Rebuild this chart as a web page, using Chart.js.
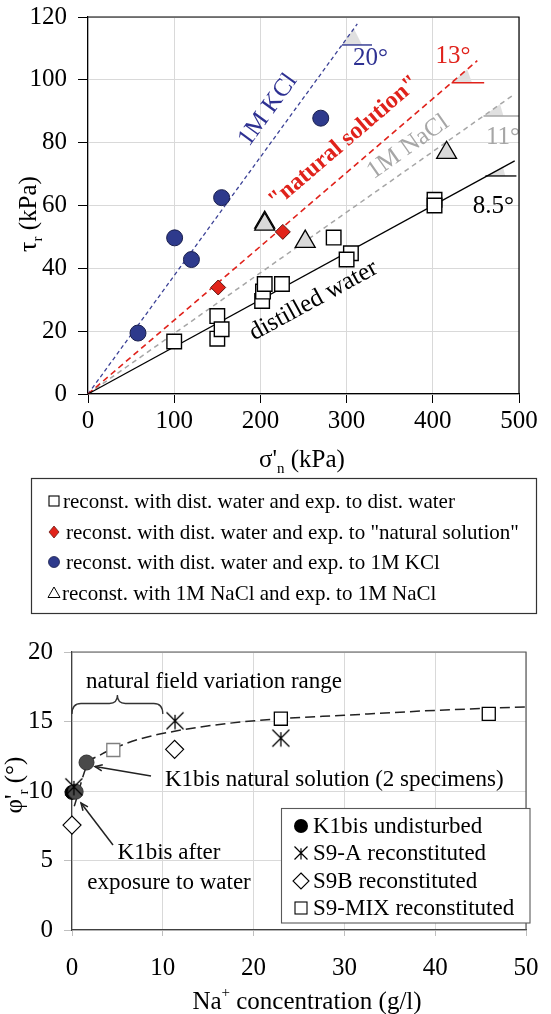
<!DOCTYPE html>
<html><head><meta charset="utf-8">
<script src="https://cdn.jsdelivr.net/npm/chart.js@4.4.0/dist/chart.umd.min.js"></script>
<style>
html,body{margin:0;padding:0;background:#fff;}
body{width:551px;height:1014px;position:relative;overflow:hidden;}
canvas{position:absolute;left:0;}
#c1{top:0}
#c2{top:620px}
</style></head><body>
<canvas id="c1" width="551" height="620"></canvas>
<canvas id="c2" width="551" height="394"></canvas>
<script>
// ---------------- TOP CHART DATA: tau_r vs sigma'_n ----------------
const sigmaDW   = [100, 150, 150, 155, 202, 203, 205, 225, 285, 305, 300, 402, 402];
const tauDW     = [16.7, 24.8, 17.6, 20.6, 29.6, 32.6, 35.0, 35.0, 49.8, 44.8, 42.8, 61.8, 60.0];
const sigmaNS   = [151, 226];
const tauNS     = [33.9, 51.6];
const sigmaKCl  = [58, 100.5, 120, 155, 270];
const tauKCl    = [19.4, 49.7, 42.8, 62.5, 87.8];
const sigmaNaCl = [205, 205, 252, 416];
const tauNaCl   = [54.6, 54.0, 48.5, 76.8];
// envelope lines (end points)
const envDWx   = [0, 495];   const envDWy   = [0, 74.2];
const envNSx   = [0, 451.6]; const envNSy   = [0, 106.1];
const envKClx  = [0, 312.4]; const envKCly  = [0, 117.8];
const envNaClx = [0, 492];   const envNaCly = [0, 94.9];
// angle markers (horizontal reference segments and shaded wedges)
const angKClx  = [294.6, 329.5]; const angKCly  = [111.1, 111.1];
const angNSx   = [421.8, 459.6]; const angNSy   = [99.1, 99.1];
const angNaClx = [458.8, 500];   const angNaCly = [88.5, 88.5];
const angDWx   = [461, 497];     const angDWy   = [69.4, 69.4];
const wedgeKClx  = [294.6, 318, 308.3]; const wedgeKCly  = [111.1, 111.1, 116.3];
const wedgeNSx   = [421.8, 445.5, 439.9]; const wedgeNSy = [99.1, 99.1, 103.4];
const wedgeNaClx = [458.8, 482, 478];   const wedgeNaCly = [88.5, 88.5, 92.2];
const wedgeDWx   = [461, 484, 481.4];   const wedgeDWy   = [69.4, 69.4, 72.4];
const xTicksTop = [0, 100, 200, 300, 400, 500];
const yTicksTop = [0, 20, 40, 60, 80, 100, 120];
const legendTop = [
  'reconst. with dist. water and exp. to dist. water',
  'reconst. with dist. water and exp. to "natural solution"',
  'reconst. with dist. water and exp. to 1M KCl',
  'reconst. with 1M NaCl and exp. to 1M NaCl'
];
const lineLabels = ['1M KCl', '"natural solution"', '1M NaCl', 'distilled water'];
const angleLabels = ['20°', '13°', '11°', '8.5°'];

// ---------------- BOTTOM CHART DATA: phi'_r vs Na+ ----------------
const naK1U  = [0];          const phiK1U  = [9.9];
const naK1N  = [0.4, 1.6];   const phiK1N  = [9.95, 12.05];
const naS9A  = [0.2, 11.35, 23.0]; const phiS9A = [10.3, 15.05, 13.8];
const naS9B  = [0, 11.3];    const phiS9B  = [7.55, 13.0];
const naMIX  = [4.55, 23.0, 45.9]; const phiMIX = [12.95, 15.2, 15.55];
const naTrend  = [0.25, 1.7, 3.0, 4.55, 7.5, 11.3, 17, 23, 30, 40, 50];
const phiTrend = [8.9, 11.9, 12.55, 13.05, 13.75, 14.3, 14.85, 15.2, 15.45, 15.8, 16.05];
const xTicksBot = [0, 10, 20, 30, 40, 50];
const yTicksBot = [0, 5, 10, 15, 20];
const legendBot = ['K1bis undisturbed', 'S9-A reconstituted', 'S9B reconstituted', 'S9-MIX reconstituted'];

// ---------------- helpers ----------------
const SERIF = "'Liberation Serif','Times New Roman',serif";
Chart.defaults.font.family = SERIF;
const pts = (xs, ys) => xs.map((x, i) => ({x: x, y: ys[i]}));

function rich(ctx, parts, x, y, rot) {
  ctx.save(); ctx.translate(x, y); if (rot) ctx.rotate(rot);
  ctx.textBaseline = 'alphabetic'; ctx.textAlign = 'left'; ctx.fillStyle = '#000';
  let w = 0;
  parts.forEach(p => { ctx.font = p.size + 'px ' + SERIF; p.w = ctx.measureText(p.t).width; w += p.w; });
  let cx = -w / 2;
  parts.forEach(p => { ctx.font = p.size + 'px ' + SERIF; ctx.fillText(p.t, cx, p.dy || 0); cx += p.w; });
  ctx.restore();
}
function rotText(ctx, txt, x, y, ang, font, color) {
  ctx.save(); ctx.translate(x, y); ctx.rotate(ang);
  ctx.font = font; ctx.fillStyle = color; ctx.textAlign = 'center'; ctx.textBaseline = 'middle';
  ctx.fillText(txt, 0, 0); ctx.restore();
}
function arrow(ctx, x0, y0, x1, y1) {
  ctx.save(); ctx.strokeStyle = '#222'; ctx.lineWidth = 1.5;
  ctx.beginPath(); ctx.moveTo(x0, y0); ctx.lineTo(x1, y1); ctx.stroke();
  const a = Math.atan2(y1 - y0, x1 - x0), L = 8;
  ctx.beginPath();
  ctx.moveTo(x1 - L * Math.cos(a - 0.4), y1 - L * Math.sin(a - 0.4));
  ctx.lineTo(x1, y1);
  ctx.lineTo(x1 - L * Math.cos(a + 0.4), y1 - L * Math.sin(a + 0.4));
  ctx.stroke(); ctx.restore();
}
// S9-A "star" marker (X with a vertical stroke)
function starMarker(size, lw) {
  const c = document.createElement('canvas'); c.width = size; c.height = size;
  const g = c.getContext('2d'); g.strokeStyle = '#000'; g.lineWidth = lw;
  const m = 1.5, s = size - 1.5;
  g.beginPath(); g.moveTo(m, m); g.lineTo(s, s); g.moveTo(s, m); g.lineTo(m, s);
  g.moveTo(size / 2, size * 0.2); g.lineTo(size / 2, s); g.stroke();
  return c;
}
const fixV = w => s => { s.width = w; s.paddingTop = 0; s.paddingBottom = 0; };
const fixH = h => s => { s.height = h; s.paddingLeft = 0; s.paddingRight = 0; };

// ---------------- TOP CHART ----------------
const topPlugin = {
  id: 'topDeco',
  afterDatasetsDraw(chart) {
    const ctx = chart.ctx, X = chart.scales.x, Y = chart.scales.y;
    const P = (x, y) => [X.getPixelForValue(x), Y.getPixelForValue(y)];
    const ang = (xs, ys) => { const a = P(xs[0], ys[0]), b = P(xs[1], ys[1]); return Math.atan2(b[1] - a[1], b[0] - a[0]); };
    let p;
    p = P(208.8, 90.4); rotText(ctx, lineLabels[0], p[0], p[1], ang(envKClx, envKCly), '25px ' + SERIF, '#2e3192');
    p = P(297, 80.2);   rotText(ctx, lineLabels[1], p[0], p[1], ang(envNSx, envNSy), 'bold 24px ' + SERIF, '#e0221b');
    p = P(371.2, 78.6); rotText(ctx, lineLabels[2], p[0], p[1], ang(envNaClx, envNaCly), '25px ' + SERIF, '#a6a6a6');
    p = P(261.7, 29.7); rotText(ctx, lineLabels[3], p[0], p[1], ang(envDWx, envDWy), '25px ' + SERIF, '#000');
    p = P(327.7, 106.9); rotText(ctx, angleLabels[0], p[0], p[1], 0, '25px ' + SERIF, '#2e3192');
    p = P(423.4, 107.4); rotText(ctx, angleLabels[1], p[0], p[1], 0, '25px ' + SERIF, '#e0221b');
    p = P(481.4, 81.6);  rotText(ctx, angleLabels[2], p[0], p[1], 0, '25px ' + SERIF, '#a6a6a6');
    p = P(470.4, 59.7);  rotText(ctx, angleLabels[3], p[0], p[1], 0, '25px ' + SERIF, '#000');
  },
  afterDraw(chart) {
    const ctx = chart.ctx, a = chart.chartArea;
    ctx.save(); ctx.strokeStyle = '#000'; ctx.lineWidth = 1.2;
    ctx.beginPath(); ctx.moveTo(a.left, a.top); ctx.lineTo(a.right, a.top); ctx.lineTo(a.right, a.bottom); ctx.stroke();
    ctx.restore();
    // axis titles
    rich(ctx, [{t: 'τ', size: 26, dy: 8}, {t: 'r', size: 15, dy: 14}, {t: ' (kPa)', size: 25, dy: 8}], 28, 214, -Math.PI / 2);
    rich(ctx, [{t: "σ'", size: 25, dy: 0}, {t: 'n', size: 15, dy: 6}, {t: ' (kPa)', size: 25, dy: 0}], 302, 467, 0);
    // legend box
    ctx.save();
    ctx.fillStyle = '#fff'; ctx.fillRect(31, 478, 505, 135);
    ctx.strokeStyle = '#333'; ctx.lineWidth = 1.2; ctx.strokeRect(31.5, 478.5, 505, 135);
    const rows = [501, 532, 562, 593], tx = [63, 66, 66, 62], sx = 54;
    ctx.lineWidth = 1.1; ctx.strokeStyle = '#000'; ctx.strokeRect(sx - 5, rows[0] - 5, 10, 10);
    ctx.beginPath(); ctx.moveTo(sx, rows[1] - 6); ctx.lineTo(sx + 5, rows[1]); ctx.lineTo(sx, rows[1] + 6); ctx.lineTo(sx - 5, rows[1]); ctx.closePath();
    ctx.fillStyle = '#e2231a'; ctx.fill(); ctx.strokeStyle = '#6b1a14'; ctx.lineWidth = 0.8; ctx.stroke();
    ctx.beginPath(); ctx.arc(sx, rows[2], 5.5, 0, Math.PI * 2); ctx.fillStyle = '#2e3a8c'; ctx.fill(); ctx.strokeStyle = '#1a1f4d'; ctx.stroke();
    ctx.beginPath(); ctx.moveTo(sx, rows[3] - 6); ctx.lineTo(sx + 6, rows[3] + 4.5); ctx.lineTo(sx - 6, rows[3] + 4.5); ctx.closePath();
    ctx.strokeStyle = '#000'; ctx.lineWidth = 1; ctx.stroke();
    ctx.fillStyle = '#000'; ctx.font = '21px ' + SERIF; ctx.textAlign = 'left'; ctx.textBaseline = 'middle';
    legendTop.forEach((t, i) => ctx.fillText(t, tx[i], rows[i] + 1));
    ctx.restore();
  }
};

const lineDs = (xs, ys, color, dash, width, order) => ({
  data: pts(xs, ys), showLine: true, pointRadius: 0, borderColor: color, borderWidth: width,
  borderDash: dash, fill: false, order: order, clip: false
});
const wedgeDs = (xs, ys) => ({
  data: pts(xs, ys), showLine: true, pointRadius: 0, borderColor: 'rgba(0,0,0,0)', borderWidth: 1,
  backgroundColor: '#e0e0e0', fill: 'shape', order: 20, clip: false
});

new Chart(document.getElementById('c1'), {
  type: 'scatter',
  data: { datasets: [
    {label: legendTop[0], data: pts(sigmaDW, tauDW), pointStyle: 'rect', pointRadius: 10.3, backgroundColor: '#fff', borderColor: '#000', borderWidth: 1.4, order: 1, clip: false},
    {label: legendTop[1], data: pts(sigmaNS, tauNS), pointStyle: 'rectRot', pointRadius: 7.5, backgroundColor: '#e2231a', borderColor: '#5a1410', borderWidth: 1, order: 1, clip: false},
    {label: legendTop[2], data: pts(sigmaKCl, tauKCl), pointStyle: 'circle', pointRadius: 8, backgroundColor: '#2e3a8c', borderColor: '#1a1f4d', borderWidth: 1, order: 1, clip: false},
    {label: legendTop[3], data: pts(sigmaNaCl, tauNaCl), pointStyle: 'triangle', pointRadius: 11.5, backgroundColor: '#d9d9d9', borderColor: '#000', borderWidth: 1.3, order: 1, clip: false},
    lineDs(envDWx, envDWy, '#000', [], 1.3, 10),
    lineDs(envNSx, envNSy, '#e0221b', [6, 4], 1.6, 10),
    lineDs(envKClx, envKCly, '#3b4196', [4, 3], 1.3, 10),
    lineDs(envNaClx, envNaCly, '#a6a6a6', [5, 4], 1.5, 10),
    lineDs(angKClx, angKCly, '#3b4196', [], 1.5, 10),
    lineDs(angNSx, angNSy, '#e0221b', [], 1.5, 10),
    lineDs(angNaClx, angNaCly, '#a6a6a6', [], 1.5, 10),
    lineDs(angDWx, angDWy, '#000', [], 1.3, 10),
    wedgeDs(wedgeKClx, wedgeKCly),
    wedgeDs(wedgeNSx, wedgeNSy),
    wedgeDs(wedgeNaClx, wedgeNaCly),
    wedgeDs(wedgeDWx, wedgeDWy)
  ]},
  options: {
    responsive: false, animation: false, events: [],
    layout: {padding: {left: 0, top: 17, right: 32, bottom: 166}},
    plugins: {legend: {display: false}, tooltip: {enabled: false}},
    scales: {
      x: {type: 'linear', min: xTicksTop[0], max: xTicksTop[xTicksTop.length - 1],
          afterBuildTicks: s => { s.ticks = xTicksTop.map(v => ({value: v})); },
          ticks: {color: '#000', font: {size: 25}, padding: 3, maxRotation: 0},
          grid: {color: '#d9d9d9', lineWidth: 1, tickLength: 9, tickColor: '#000'},
          border: {color: '#000', width: 1.2},
          afterFit: fixH(60)},
      y: {type: 'linear', min: yTicksTop[0], max: yTicksTop[yTicksTop.length - 1],
          afterBuildTicks: s => { s.ticks = yTicksTop.map(v => ({value: v})); },
          ticks: {color: '#000', font: {size: 25}, padding: 11},
          grid: {color: '#d9d9d9', lineWidth: 1, tickLength: 10, tickColor: '#000'},
          border: {color: '#000', width: 1.2},
          afterFit: fixV(88)}
    }
  },
  plugins: [topPlugin]
});

// ---------------- BOTTOM CHART ----------------
const starImg = starMarker(20, 1.3);
const botPlugin = {
  id: 'botDeco',
  afterDraw(chart) {
    const ctx = chart.ctx, a = chart.chartArea, X = chart.scales.x;
    ctx.save(); ctx.strokeStyle = '#595959'; ctx.lineWidth = 1.2;
    ctx.beginPath(); ctx.moveTo(a.left, a.top); ctx.lineTo(a.right, a.top); ctx.lineTo(a.right, a.bottom); ctx.stroke();
    ctx.restore();
    // brace over natural range 0..10
    const x0 = X.getPixelForValue(0), x1 = X.getPixelForValue(10), xm = (x0 + x1) / 2;
    const yE = 94, yH = 83.5, yP = 75;
    ctx.save(); ctx.strokeStyle = '#333'; ctx.lineWidth = 1.3; ctx.beginPath();
    ctx.moveTo(x0, yE); ctx.quadraticCurveTo(x0, yH, x0 + 9, yH); ctx.lineTo(xm - 8, yH);
    ctx.quadraticCurveTo(xm, yH, xm, yP); ctx.quadraticCurveTo(xm, yH, xm + 8, yH);
    ctx.lineTo(x1 - 9, yH); ctx.quadraticCurveTo(x1, yH, x1, yE); ctx.stroke(); ctx.restore();
    ctx.save(); ctx.fillStyle = '#000'; ctx.font = '23px ' + SERIF; ctx.textBaseline = 'middle';
    ctx.textAlign = 'center'; ctx.fillText('natural field variation range', 214, 62);
    ctx.textAlign = 'left'; ctx.fillText('K1bis natural solution (2 specimens)', 165, 160);
    ctx.textAlign = 'center'; ctx.fillText('K1bis after', 169, 233); ctx.fillText('exposure to water', 169, 263);
    ctx.restore();
    arrow(ctx, 151, 156, 95, 146.5);
    arrow(ctx, 113, 225, 81, 183);
    // axis titles
    rich(ctx, [{t: "φ'", size: 25, dy: 8}, {t: 'r', size: 15, dy: 14}, {t: ' (°)', size: 25, dy: 8}], 14, 165, -Math.PI / 2);
    rich(ctx, [{t: 'Na', size: 25, dy: 0}, {t: '+', size: 15, dy: -12}, {t: ' concentration (g/l)', size: 25, dy: 0}], 307, 389, 0);
    // legend
    ctx.save();
    ctx.fillStyle = '#fff'; ctx.fillRect(281, 188, 249, 115);
    ctx.strokeStyle = '#595959'; ctx.lineWidth = 1.1; ctx.strokeRect(281.5, 188.5, 248.5, 114.5);
    const rows = [206, 233, 261, 288], sx = 301;
    ctx.beginPath(); ctx.arc(sx, rows[0], 7, 0, Math.PI * 2); ctx.fillStyle = '#000'; ctx.fill();
    ctx.drawImage(starMarker(16, 1.2), sx - 8, rows[1] - 8);
    ctx.beginPath(); ctx.moveTo(sx, rows[2] - 8); ctx.lineTo(sx + 8, rows[2]); ctx.lineTo(sx, rows[2] + 8); ctx.lineTo(sx - 8, rows[2]); ctx.closePath();
    ctx.strokeStyle = '#000'; ctx.lineWidth = 1.1; ctx.stroke();
    ctx.strokeRect(sx - 6, rows[3] - 6, 12, 12);
    ctx.fillStyle = '#000'; ctx.font = '23px ' + SERIF; ctx.textAlign = 'left'; ctx.textBaseline = 'middle';
    legendBot.forEach((t, i) => ctx.fillText(t, 313, rows[i] + 1));
    ctx.restore();
  }
};

new Chart(document.getElementById('c2'), {
  type: 'scatter',
  data: { datasets: [
    {label: legendBot[1], data: pts(naS9A, phiS9A), pointStyle: starImg, pointRadius: 10, order: 1, clip: false},
    {label: 'K1bis natural solution', data: pts(naK1N, phiK1N), pointStyle: 'circle', pointRadius: 7.5, backgroundColor: '#4a4a4a', borderColor: '#333', borderWidth: 1, order: 2, clip: false},
    {label: legendBot[0], data: pts(naK1U, phiK1U), pointStyle: 'circle', pointRadius: 7, backgroundColor: '#000', borderColor: '#000', borderWidth: 1, order: 3, clip: false},
    {label: legendBot[2], data: pts(naS9B, phiS9B), pointStyle: 'rectRot', pointRadius: 9, backgroundColor: '#fff', borderColor: '#000', borderWidth: 1.2, order: 1, clip: false},
    {label: legendBot[3], data: pts(naMIX, phiMIX), pointStyle: 'rect', pointRadius: 9.2, backgroundColor: '#fff', borderColor: ['#7f7f7f', '#000', '#000'], borderWidth: 1.3, order: 1, clip: false},
    {label: 'trend', data: pts(naTrend, phiTrend), showLine: true, pointRadius: 0, borderColor: '#222', borderWidth: 1.5, borderDash: [10, 5], cubicInterpolationMode: 'monotone', order: 10, clip: false}
  ]},
  options: {
    responsive: false, animation: false, events: [],
    layout: {padding: {left: 0, top: 32, right: 25, bottom: 0}},
    plugins: {legend: {display: false}, tooltip: {enabled: false}},
    scales: {
      x: {type: 'linear', min: xTicksBot[0], max: xTicksBot[xTicksBot.length - 1],
          afterBuildTicks: s => { s.ticks = xTicksBot.map(v => ({value: v})); },
          ticks: {color: '#000', font: {size: 25}, padding: 17, maxRotation: 0},
          grid: {color: '#d9d9d9', lineWidth: 1, tickLength: 6, tickColor: '#bfbfbf'},
          border: {color: '#404040', width: 1.2},
          afterFit: fixH(84)},
      y: {type: 'linear', min: yTicksBot[0], max: yTicksBot[yTicksBot.length - 1],
          afterBuildTicks: s => { s.ticks = yTicksBot.map(v => ({value: v})); },
          ticks: {color: '#000', font: {size: 25}, padding: 11},
          grid: {color: '#d9d9d9', lineWidth: 1, tickLength: 8, tickColor: '#bfbfbf'},
          border: {color: '#404040', width: 1.2},
          afterFit: fixV(72)}
    }
  },
  plugins: [botPlugin]
});
</script></body></html>
